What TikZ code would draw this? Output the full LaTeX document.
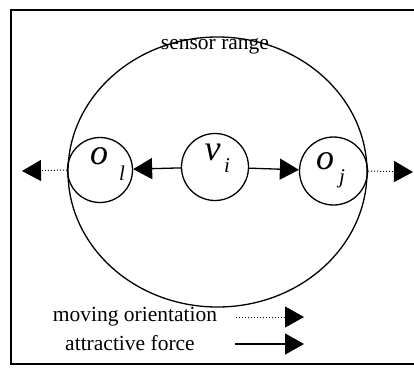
\documentclass[tikz,border=0pt]{standalone}
\usepackage{fontspec}
\setmainfont{Liberation Serif}
\usetikzlibrary{arrows.meta,shapes.geometric}
\tikzset{
  ring/.style={draw, circle, line width=1.3pt, inner sep=0pt},
  force/.style={line width=1.3pt, -{Triangle[length=19pt,width=21pt]}},
  moving/.style={line width=1pt, dotted, -{Triangle[length=19pt,width=21pt]}},
  lbl/.style={font=\fontsize{21.5}{23}\selectfont, inner sep=0pt},
  bigit/.style={font=\fontsize{36}{36}\selectfont\itshape, inner sep=0pt},
  subit/.style={font=\fontsize{21}{21}\selectfont\itshape, inner sep=0pt},
}
\begin{document}
\begin{tikzpicture}[x=1pt,y=-1pt]
\useasboundingbox (0,0) rectangle (414,367);
% frame (right side lies outside the picture)
\draw[line width=1.3pt] (414,10) -- (11,10) -- (11,364) -- (414,364);
% sensor range
\node[draw, ellipse, line width=1.3pt, minimum width=299pt, minimum height=270pt, inner sep=0pt] (range) at (217.5,172) {};
\node[lbl] (rlabel) at (215,46) {sensor range};
% circles
\node[ring, minimum size=65pt] (ol) at (100,170) {};
\node[ring, minimum size=67pt] (vi) at (215,167) {};
\node[ring, minimum size=68pt] (oj) at (333.5,171) {};
% labels in circles
\node[bigit] (olo) at (99,156) {o};
\node[subit] (oll) at (122,173) {l};
\node[bigit] (viv) at (212.5,152) {v};
\node[subit] (vii) at (227,166) {i};
\node[bigit] (ojo) at (325,161) {o};
\node[subit] (ojj) at (342,179) {j};
% forces
\draw[force] (vi) -- (ol);
\draw[force] (vi) -- (oj);
% moving orientation
\coordinate (lt) at (22,171);
\coordinate (rt) at (413,172);
\draw[moving] (ol.west) -- (lt);
\draw[moving] (oj.east) -- (rt);
% legend
\node[lbl] (lm) at (135,317) {moving orientation};
\node[lbl] (la) at (130,343) {attractive force};
\coordinate (lm1) at (236,317);
\coordinate (lm2) at (304,317);
\coordinate (la1) at (235,344);
\coordinate (la2) at (304,344);
\draw[moving] (lm1) -- (lm2);
\draw[force] (la1) -- (la2);
\end{tikzpicture}
\end{document}
